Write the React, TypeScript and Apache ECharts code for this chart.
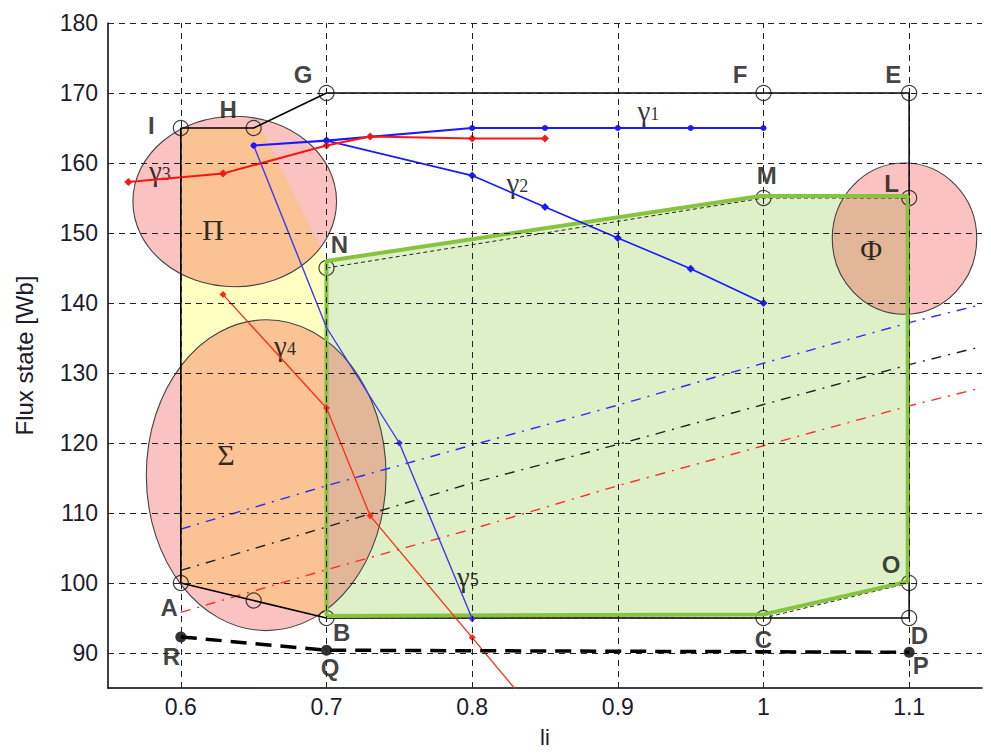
import React, { useEffect, useRef } from "react";
import * as echarts from "echarts";

// ---- axes ----
const xTicks = [0.6, 0.7, 0.8, 0.9, 1.0, 1.1];
const yTicks = [90, 100, 110, 120, 130, 140, 150, 160, 170, 180];

// ---- regions ----
const yellowRegion = [[0.6, 165], [0.655, 165], [0.697, 147.5], [0.7, 146], [0.7, 95], [0.65, 97.5], [0.6, 100]];
const greenRegion = [[0.7, 95.3], [0.7, 146], [0.998, 155.3], [1.099, 155.3], [1.099, 100.2], [1.0, 95.5], [0.7, 95.3]];
const outerBoundary = [[0.6, 100], [0.65, 97.5], [0.7, 95], [1.0, 95], [1.1, 95], [1.1, 100], [1.1, 155], [1.1, 170], [1.0, 170], [0.7, 170], [0.65, 165], [0.6, 165], [0.6, 100]];
const innerBoundary = [[0.7, 95], [0.7, 145], [1.0, 155], [1.1, 155], [1.1, 100], [1.0, 95], [0.7, 95]];

// ellipses: [cx, cy, rx, ry] in data units (Π, Σ, Φ)
const ellipses = [
  [0.637, 154.5, 0.0699, 12.17],
  [0.6586, 115.4, 0.0823, 22.2],
  [1.0968, 149.2, 0.0496, 10.8],
];

// ---- trajectories ----
const gamma1 = [[0.65, 162.5], [0.7, 163.2], [0.8, 165], [0.85, 165], [0.9, 165], [0.95, 165], [1.0, 165]];
const gamma2 = [[0.7, 163.2], [0.8, 158.2], [0.85, 153.7], [0.9, 149.3], [0.95, 144.9], [1.0, 140]];
const gamma3 = [[0.564, 157.3], [0.629, 158.5], [0.7, 162.5], [0.73, 163.8], [0.8, 163.5], [0.85, 163.5]];
const gamma4 = [[0.629, 141.2], [0.7, 125], [0.73, 109.6], [0.8, 92.2], [0.833, 84]];
const gamma5 = [[0.65, 162.5], [0.7, 136.5], [0.75, 120], [0.8, 94.9]];

// ---- dash-dot lines ----
const blueDash = [[0.6, 107.7], [0.7, 113.9], [0.8, 119.7], [0.9, 125.4], [1.0, 131.4], [1.1, 137.2], [1.15, 139.8]];
const blackDash = [[0.6, 101.8], [0.7, 108], [0.8, 114.3], [0.9, 119.8], [1.0, 125.5], [1.1, 131.2], [1.15, 133.8]];
const redDash = [[0.6, 95.8], [0.7, 101.9], [0.8, 107.7], [0.9, 113.9], [1.0, 119.6], [1.1, 125.3], [1.15, 127.9]];

// ---- R-Q-P ----
const rqp = [[0.6, 92.3], [0.7, 90.4], [1.1, 90.1]];

// ---- open circle points ----
const openPoints = [[0.6, 100], [0.65, 97.5], [0.7, 95], [1.0, 95], [1.1, 95], [1.1, 100], [1.1, 155], [1.1, 170], [1.0, 170], [0.7, 170], [0.65, 165], [0.6, 165], [0.7, 145], [1.0, 155]];

// ---- labels ----
const letterLabels = [
  ["A", 0.592, 96.5], ["B", 0.7104, 93.0], ["C", 1.0, 92.0], ["D", 1.107, 92.5],
  ["O", 1.0876, 102.7], ["L", 1.088, 157.1], ["E", 1.089, 172.7], ["F", 0.984, 172.7],
  ["M", 1.0023, 158.2], ["G", 0.684, 172.6], ["H", 0.6325, 167.6], ["I", 0.5798, 165.3],
  ["N", 0.7088, 148.3], ["R", 0.5936, 89.5], ["Q", 0.7024, 88.0], ["P", 1.108, 88.2],
];
const gammaLabels = [
  ["1", 0.921, 167.4], ["2", 0.831, 157.2], ["3", 0.5856, 158.8], ["4", 0.6715, 133.9], ["5", 0.797, 100.8],
];
const regionLabels = [["Π", 0.622, 150.5], ["Σ", 0.631, 118.4], ["Φ", 1.074, 147.6]];

function polygonSeries(points: number[][], style: any) {
  return {
    type: "custom",
    silent: true,
    data: [points[0]],
    renderItem: (_p: any, api: any) => ({
      type: "polygon",
      shape: { points: points.map((pt) => api.coord(pt)) },
      style,
    }),
  };
}

function lineSeries(data: any[], color: string, width: number, extra: any = {}) {
  return {
    type: "line",
    silent: true,
    data,
    symbol: "none",
    lineStyle: { color, width },
    itemStyle: { color },
    ...extra,
  };
}

export default function App() {
  const ref = useRef<HTMLDivElement>(null);
  useEffect(() => {
    document.body.style.margin = "0";
    const chart = echarts.init(ref.current!, null, { renderer: "svg" });
    const fmt = (v: number) => String(parseFloat(Number(v).toFixed(3)));
    chart.setOption({
      animation: false,
      grid: { left: 108, right: 9, top: 23, bottom: 64 },
      xAxis: {
        type: "value",
        min: 0.55,
        max: 1.15,
        name: "li",
        nameLocation: "middle",
        nameGap: 38,
        nameTextStyle: { fontSize: 22, fontFamily: "Liberation Sans", color: "#1c1c2c" },
        axisLine: { show: true, onZero: false, lineStyle: { color: "#000", width: 1.5 } },
        axisTick: { show: true, inside: true, length: 6, customValues: xTicks, lineStyle: { color: "#000" } },
        axisLabel: { customValues: xTicks, formatter: fmt, fontSize: 23, margin: 7, fontFamily: "Liberation Sans", color: "#1c1c2c" },
        splitLine: { show: false },
      },
      yAxis: {
        type: "value",
        min: 85,
        max: 180,
        name: "Flux state [Wb]",
        nameLocation: "middle",
        nameGap: 72,
        nameTextStyle: { fontSize: 24, fontFamily: "Liberation Sans", color: "#1c1c2c" },
        axisLine: { show: true, onZero: false, lineStyle: { color: "#000", width: 1.5 } },
        axisTick: { show: true, inside: true, length: 6, customValues: yTicks, lineStyle: { color: "#000" } },
        axisLabel: { customValues: yTicks, fontSize: 23, margin: 10, fontFamily: "Liberation Sans", color: "#1c1c2c" },
        splitLine: { show: false },
      },
      series: [
        polygonSeries(yellowRegion, { fill: "#ffffc2" }),
        polygonSeries(greenRegion, { fill: "#def0c8" }),
        {
          type: "line",
          silent: true,
          data: [],
          markLine: {
            silent: true,
            symbol: ["none", "none"],
            label: { show: false },
            lineStyle: { color: "#222", width: 1, type: [6, 5] },
            data: [
              ...xTicks.map((v) => ({ xAxis: v })),
              ...yTicks.map((v) => ({ yAxis: v })),
            ],
          },
        },
        lineSeries(blueDash, "#2a2aff", 1.4, { lineStyle: { color: "#2a2aff", width: 1.4, type: [10, 7, 2, 7] } }),
        lineSeries(blackDash, "#222", 1.4, { lineStyle: { color: "#222", width: 1.4, type: [10, 7, 2, 7] } }),
        lineSeries(redDash, "#ff2a2a", 1.4, { lineStyle: { color: "#ff2a2a", width: 1.4, type: [10, 7, 2, 7] } }),
        lineSeries(outerBoundary, "#000", 1.6),
        lineSeries(innerBoundary, "#222", 1, { lineStyle: { color: "#222", width: 1, type: [4, 3] } }),
        lineSeries(greenRegion, "#86c440", 4),
        lineSeries(
          gamma5.map((p, i) => (i === 1 ? { value: p, symbol: "none" } : p)),
          "#3a3af0",
          1.4,
          { symbol: "diamond", symbolSize: 7, showSymbol: true }
        ),
        {
          type: "custom",
          silent: true,
          data: ellipses,
          renderItem: (_p: any, api: any) => {
            const c = api.coord([api.value(0), api.value(1)]);
            const s = api.size([api.value(2), api.value(3)]);
            return {
              type: "ellipse",
              shape: { cx: c[0], cy: c[1], rx: s[0], ry: s[1] },
              style: { fill: "rgba(240,20,20,0.26)", stroke: "#444", lineWidth: 1.1 },
            };
          },
        },
        lineSeries(gamma1, "#1a1aff", 2.2, { symbol: "circle", symbolSize: 6, showSymbol: true }),
        lineSeries(gamma2, "#1a1aff", 1.6, { symbol: "diamond", symbolSize: 8, showSymbol: true }),
        lineSeries(gamma3, "#ff1414", 2, { symbol: "diamond", symbolSize: 8, showSymbol: true }),
        lineSeries(gamma4, "#ff2a1a", 1.3, { symbol: "diamond", symbolSize: 7, showSymbol: true }),
        lineSeries(rqp, "#000", 3.5, { lineStyle: { color: "#000", width: 3.5, type: [16, 9] } }),
        {
          type: "scatter",
          silent: true,
          data: openPoints,
          symbol: "circle",
          symbolSize: 15,
          itemStyle: { color: "rgba(0,0,0,0)", borderColor: "#111", borderWidth: 1.2 },
        },
        {
          type: "scatter",
          silent: true,
          data: rqp,
          symbol: "circle",
          symbolSize: 11,
          itemStyle: { color: "#000" },
        },
        {
          type: "scatter",
          silent: true,
          data: letterLabels.map((l) => ({ name: l[0], value: [l[1], l[2]] })),
          symbolSize: 0,
          itemStyle: { color: "rgba(0,0,0,0)" },
          label: {
            show: true,
            position: "inside",
            formatter: "{b}",
            fontSize: 24,
            fontWeight: "bold",
            fontFamily: "Liberation Sans",
            color: "#111",
          },
        },
        {
          type: "scatter",
          silent: true,
          data: gammaLabels.map((l) => ({ name: l[0], value: [l[1], l[2]] })),
          symbolSize: 0,
          itemStyle: { color: "rgba(0,0,0,0)" },
          label: {
            show: true,
            position: "inside",
            formatter: (p: any) => `{g|γ}{s|${p.name}}`,
            rich: {
              g: { fontSize: 29, fontFamily: "Liberation Serif", color: "#000" },
              s: { fontSize: 18, fontFamily: "Liberation Serif", color: "#000", padding: [6, 0, 0, 0] },
            },
          },
        },
        {
          type: "scatter",
          silent: true,
          data: regionLabels.map((l) => ({ name: l[0], value: [l[1], l[2]] })),
          symbolSize: 0,
          itemStyle: { color: "rgba(0,0,0,0)" },
          label: {
            show: true,
            position: "inside",
            formatter: "{b}",
            fontSize: 30,
            fontFamily: "Liberation Serif",
            color: "#000",
          },
        },
      ],
    });
    return () => chart.dispose();
  }, []);
  return <div ref={ref} style={{ width: 991, height: 753 }} />;
}
